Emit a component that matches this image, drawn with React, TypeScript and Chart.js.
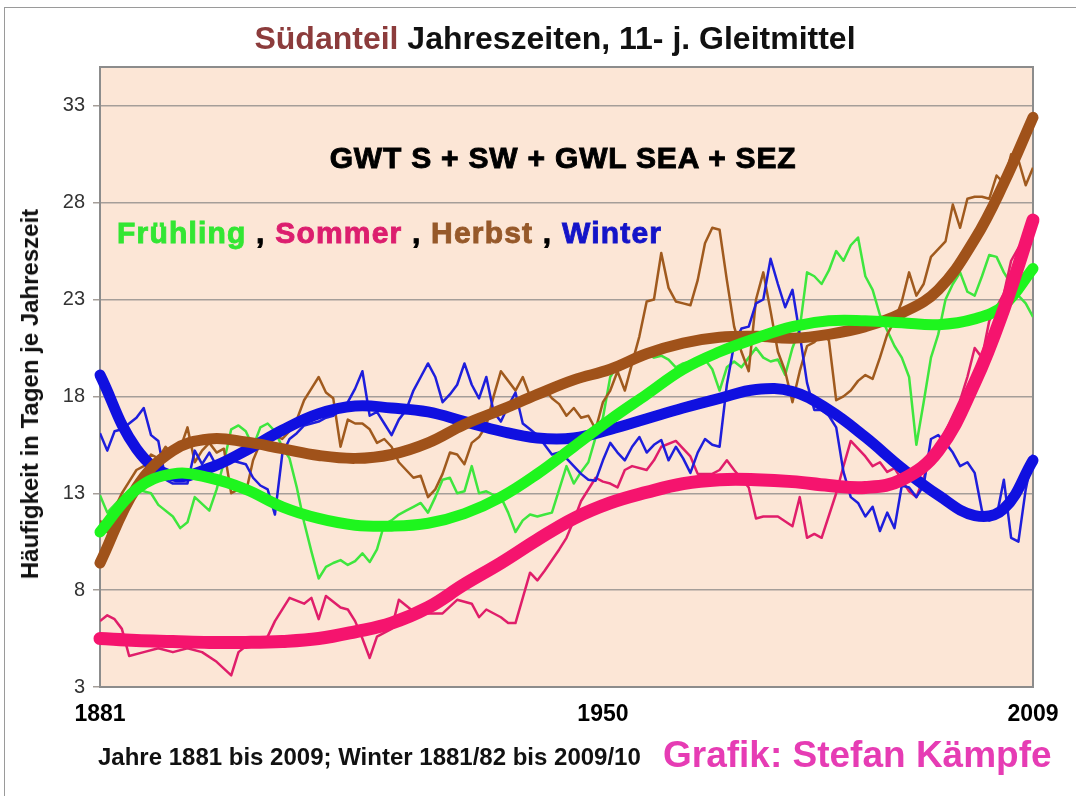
import React, { useEffect, useRef } from "react";
import { Chart, registerables } from "chart.js";

Chart.register(...registerables);

const FONT = '"Liberation Sans", Arial, Helvetica, sans-serif';

// ---- axis ticks ----
const yTicks = [3, 8, 13, 18, 23, 28, 33];
const xTicks = [1881, 1950, 2009];

// ---- 11-year moving averages ----
const springRaw: [number, number][] = [
  [1881, 12.9], [1882, 12.0], [1883, 12.4], [1884, 12.8], [1886, 13.2], [1888, 13.0], [1889, 12.4],
  [1891, 11.8], [1892, 11.2], [1893, 11.5], [1894, 12.8], [1896, 12.1], [1897, 13.2], [1898, 14.6],
  [1899, 16.3], [1900, 16.5], [1901, 16.2], [1902, 15.4], [1903, 16.4], [1904, 16.6], [1905, 16.2],
  [1906, 15.4], [1907, 14.8], [1908, 13.3], [1909, 11.5], [1910, 10.0], [1911, 8.6], [1912, 9.2],
  [1913, 9.4], [1914, 9.55], [1915, 9.3], [1916, 9.5], [1917, 9.9], [1918, 9.45], [1919, 10.1],
  [1920, 11.4], [1921, 11.6], [1922, 11.9], [1923, 12.1], [1924, 12.3], [1925, 12.5], [1926, 12.0],
  [1927, 12.8], [1928, 13.7], [1929, 13.8], [1930, 13.0], [1931, 13.1], [1932, 14.4], [1933, 13.0],
  [1934, 13.1], [1935, 12.9], [1936, 12.8], [1937, 12.0], [1938, 11.0], [1939, 11.6], [1940, 11.9],
  [1941, 11.8], [1942, 11.9], [1943, 12.0], [1944, 13.2], [1945, 14.4], [1946, 13.5], [1947, 14.1],
  [1948, 14.6], [1949, 15.9], [1950, 16.9], [1951, 19.0], [1952, 19.6], [1953, 19.7], [1954, 20.0],
  [1955, 20.1], [1956, 20.2], [1957, 20.0], [1958, 20.1], [1959, 19.9], [1960, 19.5], [1961, 19.7],
  [1962, 19.8], [1963, 19.9], [1964, 19.9], [1965, 19.4], [1966, 18.3], [1967, 19.5], [1968, 19.8],
  [1969, 19.5], [1970, 20.0], [1971, 20.5], [1972, 20.0], [1973, 19.8], [1974, 19.9], [1975, 19.1],
  [1976, 20.5], [1977, 21.5], [1978, 24.4], [1979, 24.2], [1980, 23.8], [1981, 24.5], [1982, 25.5],
  [1983, 25.0], [1984, 25.8], [1985, 26.2], [1986, 24.2], [1987, 23.5], [1988, 22.2], [1989, 21.4],
  [1990, 20.6], [1991, 20.0], [1992, 19.0], [1993, 15.5], [1994, 17.7], [1995, 20.0], [1996, 21.2],
  [1997, 23.0], [1998, 23.8], [1999, 24.4], [2000, 23.4], [2001, 23.2], [2002, 24.2], [2003, 25.3],
  [2004, 25.2], [2005, 24.4], [2006, 23.8], [2007, 23.2], [2008, 22.8], [2009, 22.1],
];

const summerRaw: [number, number][] = [
  [1881, 6.4], [1882, 6.7], [1883, 6.5], [1884, 6.0], [1885, 4.6], [1887, 4.8], [1889, 5.0],
  [1891, 4.8], [1893, 5.0], [1895, 4.8], [1897, 4.3], [1899, 3.6], [1900, 4.8], [1902, 5.4],
  [1904, 5.6], [1905, 6.4], [1907, 7.6], [1909, 7.3], [1910, 7.6], [1911, 6.5], [1912, 7.7],
  [1914, 7.1], [1915, 7.0], [1916, 6.4], [1917, 5.5], [1918, 4.5], [1919, 5.6], [1921, 6.0],
  [1922, 7.5], [1924, 6.9], [1926, 6.8], [1928, 6.8], [1930, 7.5], [1932, 7.3], [1933, 6.6],
  [1934, 7.0], [1936, 6.6], [1937, 6.3], [1938, 6.3], [1939, 7.6], [1940, 8.9], [1941, 8.5],
  [1942, 9.0], [1944, 10.1], [1945, 10.7], [1946, 11.6], [1947, 12.6], [1949, 13.8], [1950, 13.6],
  [1951, 13.5], [1952, 13.3], [1953, 14.2], [1954, 14.4], [1956, 14.2], [1957, 14.7], [1958, 15.4],
  [1960, 15.7], [1961, 15.3], [1962, 14.9], [1963, 14.0], [1965, 14.0], [1966, 14.2], [1967, 14.7],
  [1968, 14.2], [1970, 13.3], [1971, 11.7], [1972, 11.8], [1974, 11.8], [1976, 11.3], [1977, 12.8],
  [1978, 10.7], [1979, 10.9], [1980, 10.7], [1982, 13.0], [1983, 14.4], [1984, 15.7], [1986, 14.9],
  [1987, 14.4], [1988, 14.6], [1989, 14.1], [1990, 14.3], [1992, 13.1], [1993, 12.8], [1995, 14.8],
  [1997, 16.2], [1999, 17.8], [2000, 19.0], [2001, 20.5], [2002, 20.0], [2003, 21.9], [2005, 23.3],
  [2006, 25.0], [2009, 27.0],
];

const autumnRaw: [number, number][] = [
  [1881, 11.6], [1882, 11.0], [1883, 12.2], [1884, 13.0], [1885, 13.6], [1886, 14.2], [1887, 14.4],
  [1888, 15.0], [1889, 14.8], [1890, 15.4], [1891, 15.0], [1892, 15.3], [1893, 16.4], [1894, 14.6],
  [1895, 15.2], [1896, 15.6], [1897, 15.1], [1898, 15.3], [1899, 13.0], [1900, 13.2], [1901, 13.0],
  [1902, 14.7], [1903, 15.6], [1904, 15.8], [1905, 16.0], [1906, 15.8], [1907, 16.2], [1908, 16.8],
  [1909, 17.8], [1910, 18.4], [1911, 19.0], [1912, 18.2], [1913, 17.9], [1914, 15.4], [1915, 16.8],
  [1916, 16.6], [1917, 16.6], [1918, 16.3], [1919, 15.6], [1920, 15.8], [1921, 15.4], [1922, 14.6],
  [1923, 14.2], [1924, 13.8], [1925, 13.9], [1926, 12.8], [1927, 13.2], [1928, 14.0], [1929, 15.1],
  [1930, 15.0], [1931, 14.5], [1932, 15.6], [1933, 15.9], [1934, 16.5], [1935, 18.0], [1936, 19.3],
  [1937, 18.8], [1938, 18.3], [1939, 19.0], [1940, 18.0], [1941, 18.3], [1942, 18.4], [1943, 17.9],
  [1944, 17.6], [1945, 17.0], [1946, 17.4], [1947, 16.9], [1948, 17.0], [1949, 16.3], [1950, 17.7],
  [1951, 18.3], [1952, 19.3], [1953, 18.3], [1954, 19.7], [1955, 21.1], [1956, 22.9], [1957, 23.0],
  [1958, 25.4], [1959, 23.6], [1960, 22.9], [1961, 22.8], [1962, 22.7], [1963, 24.0], [1964, 25.9],
  [1965, 26.7], [1966, 26.6], [1967, 24.0], [1968, 21.6], [1969, 20.3], [1970, 19.3], [1971, 23.0],
  [1972, 24.4], [1973, 22.4], [1974, 20.3], [1975, 19.3], [1976, 17.7], [1977, 19.3], [1978, 20.6],
  [1979, 20.8], [1980, 21.2], [1981, 20.9], [1982, 17.8], [1983, 18.0], [1984, 18.3], [1985, 18.8],
  [1986, 19.1], [1987, 18.9], [1988, 20.0], [1989, 21.2], [1990, 21.9], [1991, 22.9], [1992, 24.4],
  [1993, 23.2], [1994, 23.8], [1995, 25.2], [1996, 25.6], [1997, 26.0], [1998, 27.9], [1999, 26.7],
  [2000, 28.2], [2001, 28.3], [2002, 28.3], [2003, 28.2], [2004, 29.4], [2005, 29.0], [2006, 30.5],
  [2007, 30.2], [2008, 28.9], [2009, 29.8],
];

const winterRaw: [number, number][] = [
  [1881, 16.1], [1882, 15.2], [1883, 16.2], [1884, 16.3], [1885, 16.6], [1886, 16.9], [1887, 17.4],
  [1888, 16.0], [1889, 15.7], [1890, 13.7], [1891, 13.5], [1892, 13.5], [1893, 13.5], [1894, 15.2],
  [1895, 14.5], [1896, 15.1], [1897, 14.4], [1898, 14.6], [1899, 14.7], [1900, 14.6], [1901, 14.5],
  [1902, 13.8], [1903, 13.4], [1904, 13.2], [1905, 11.9], [1906, 15.0], [1907, 15.8], [1908, 16.1],
  [1909, 16.5], [1910, 16.6], [1911, 16.7], [1912, 16.9], [1913, 17.0], [1914, 17.3], [1915, 17.7],
  [1916, 18.4], [1917, 19.3], [1918, 17.0], [1919, 17.2], [1920, 16.6], [1921, 16.0], [1922, 16.8],
  [1923, 17.3], [1924, 18.3], [1925, 19.0], [1926, 19.7], [1927, 19.0], [1928, 17.7], [1929, 18.1],
  [1930, 18.6], [1931, 19.7], [1932, 18.6], [1933, 17.9], [1934, 19.0], [1935, 17.2], [1936, 16.7],
  [1937, 17.5], [1938, 18.2], [1939, 16.6], [1940, 16.3], [1941, 16.0], [1942, 15.5], [1943, 15.0],
  [1944, 15.1], [1945, 14.8], [1946, 14.4], [1947, 14.0], [1948, 13.7], [1949, 13.65], [1950, 14.7],
  [1951, 15.6], [1952, 15.1], [1953, 14.7], [1954, 15.4], [1955, 15.9], [1956, 15.1], [1957, 15.5],
  [1958, 15.75], [1959, 14.7], [1960, 15.4], [1961, 14.8], [1962, 14.05], [1963, 15.1], [1964, 15.8],
  [1965, 15.5], [1966, 15.4], [1967, 18.6], [1968, 20.7], [1969, 21.5], [1970, 21.6], [1971, 22.8],
  [1972, 23.0], [1973, 25.1], [1974, 23.8], [1975, 22.6], [1976, 23.5], [1977, 21.2], [1978, 18.7],
  [1979, 17.3], [1980, 17.3], [1981, 17.0], [1982, 16.4], [1983, 14.1], [1984, 12.8], [1985, 12.5],
  [1986, 11.8], [1987, 12.3], [1988, 11.05], [1989, 12.0], [1990, 11.2], [1991, 13.4], [1992, 13.3],
  [1993, 12.8], [1994, 13.4], [1995, 15.8], [1996, 16.0], [1997, 15.6], [1998, 15.1], [1999, 14.4],
  [2000, 14.6], [2001, 14.05], [2002, 12.1], [2003, 11.6], [2004, 11.8], [2005, 13.7], [2006, 10.7],
  [2007, 10.5], [2008, 13.2], [2009, 15.0],
];

// ---- polynomial trend curves ----
const trendYears = [1881, 1886, 1891, 1896, 1901, 1906, 1911, 1916, 1921, 1926, 1931, 1936, 1941,
  1946, 1951, 1956, 1961, 1966, 1971, 1976, 1981, 1986, 1991, 1996, 2001, 2005, 2009];
const springTrend = [11.0, 13.2, 14.0, 13.8, 13.2, 12.3, 11.7, 11.35, 11.3, 11.45, 11.95, 12.8, 14.0,
  15.4, 16.8, 18.1, 19.4, 20.3, 21.0, 21.6, 21.9, 21.9, 21.8, 21.7, 22.0, 22.7, 24.6];
const summerTrend = [5.5, 5.4, 5.35, 5.3, 5.3, 5.35, 5.5, 5.85, 6.3, 7.1, 8.3, 9.4, 10.6,
  11.7, 12.5, 13.05, 13.5, 13.7, 13.7, 13.6, 13.4, 13.3, 13.7, 15.2, 18.7, 22.5, 27.1];
const autumnTrend = [9.4, 13.3, 15.2, 15.8, 15.65, 15.3, 14.95, 14.8, 15.0, 15.6, 16.55, 17.3, 18.1,
  18.85, 19.4, 20.2, 20.75, 21.05, 21.1, 21.0, 21.2, 21.6, 22.3, 23.5, 26.1, 29.0, 32.4];
const winterTrend = [19.1, 15.3, 13.9, 14.3, 15.2, 16.25, 17.1, 17.5, 17.4, 17.2, 16.7, 16.2, 15.85,
  15.85, 16.3, 16.85, 17.4, 17.9, 18.35, 18.25, 17.3, 15.9, 14.3, 12.9, 11.85, 12.2, 14.7];

const COLORS = {
  springRaw: "#3ee63e",
  springTrend: "#1ef51e",
  summerRaw: "#e01e6a",
  summerTrend: "#f5146e",
  autumnRaw: "#a05a1e",
  autumnTrend: "#a0521a",
  winterRaw: "#1e1edc",
  winterTrend: "#1010e0",
};

const toPoints = (pairs: [number, number][]) => pairs.map(([x, y]) => ({ x, y }));
const trendPoints = (vals: number[]) => trendYears.map((x, i) => ({ x, y: vals[i] }));

const plotFrame = {
  id: "plotFrame",
  beforeDraw(chart: any) {
    const { ctx, chartArea: a } = chart;
    ctx.save();
    ctx.fillStyle = "#fce6d6";
    ctx.fillRect(a.left, a.top, a.right - a.left, a.bottom - a.top);
    ctx.restore();
  },
  beforeDatasetsDraw(chart: any) {
    const { ctx, chartArea: a } = chart;
    ctx.save();
    ctx.strokeStyle = "#8c8c8c";
    ctx.lineWidth = 2;
    ctx.strokeRect(a.left, a.top, a.right - a.left, a.bottom - a.top);
    ctx.restore();
  },
};

function rawSet(label: string, pairs: [number, number][], color: string, order: number) {
  return {
    label,
    data: toPoints(pairs),
    borderColor: color,
    backgroundColor: color,
    borderWidth: 2.5,
    pointRadius: 0,
    tension: 0,
    fill: false,
    order,
    borderJoinStyle: "round" as const,
  };
}

function trendSet(label: string, vals: number[], color: string, width: number, order: number) {
  return {
    label,
    data: trendPoints(vals),
    borderColor: color,
    backgroundColor: color,
    borderWidth: width,
    pointRadius: 0,
    tension: 0.4,
    fill: false,
    order,
    clip: false as const,
    borderCapStyle: "round" as const,
    borderJoinStyle: "round" as const,
  };
}

export default function App() {
  const canvasRef = useRef<HTMLCanvasElement | null>(null);

  useEffect(() => {
    if (!canvasRef.current) return;
    Chart.defaults.font.family = FONT;
    const chart = new Chart(canvasRef.current, {
      type: "line",
      data: {
        datasets: [
          trendSet("Sommer Trend", summerTrend, COLORS.summerTrend, 13, 1),
          trendSet("Frühling Trend", springTrend, COLORS.springTrend, 11, 2),
          trendSet("Herbst Trend", autumnTrend, COLORS.autumnTrend, 11, 3),
          trendSet("Winter Trend", winterTrend, COLORS.winterTrend, 11, 4),
          rawSet("Winter", winterRaw, COLORS.winterRaw, 5),
          rawSet("Herbst", autumnRaw, COLORS.autumnRaw, 6),
          rawSet("Sommer", summerRaw, COLORS.summerRaw, 7),
          rawSet("Frühling", springRaw, COLORS.springRaw, 8),
        ] as any,
      },
      options: {
        responsive: false,
        animation: false,
        devicePixelRatio: 1,
        layout: { padding: { left: 0, right: 43, top: 67, bottom: 0 } },
        plugins: {
          legend: { display: false },
          tooltip: { enabled: false },
          title: { display: false },
        },
        scales: {
          x: {
            type: "linear",
            min: 1881,
            max: 2009,
            afterBuildTicks: (s: any) => {
              s.ticks = xTicks.map((v) => ({ value: v }));
            },
            afterFit: (s: any) => {
              s.height = 109;
            },
            grid: { display: false, drawTicks: false, tickLength: 0 },
            border: { display: false },
            ticks: {
              autoSkip: false,
              maxRotation: 0,
              minRotation: 0,
              padding: 14,
              color: "#000",
              font: { family: FONT, size: 23, weight: "bold" },
              callback: (v: any) => String(v),
            },
          },
          y: {
            type: "linear",
            min: 3,
            max: 35,
            afterBuildTicks: (s: any) => {
              s.ticks = yTicks.map((v) => ({ value: v }));
            },
            afterFit: (s: any) => {
              s.width = 100;
            },
            grid: { color: "#a59e99", lineWidth: 1.5, drawTicks: true, tickLength: 7 },
            border: { display: false },
            ticks: {
              padding: 8,
              color: "#333",
              font: { family: FONT, size: 20 },
              callback: (v: any) => String(v),
            },
          },
        },
      },
      plugins: [plotFrame],
    });
    return () => chart.destroy();
  }, []);

  const heavy: React.CSSProperties = {
    position: "absolute",
    whiteSpace: "nowrap",
    fontFamily: FONT,
    fontWeight: "bold",
    lineHeight: 1,
    margin: 0,
  };

  const black: React.CSSProperties = {
    WebkitTextStroke: "0.9px currentColor",
  };

  return (
    <div
      style={{
        position: "absolute",
        left: 0,
        top: 0,
        width: 1076,
        height: 796,
        background: "#fff",
        overflow: "hidden",
      }}
    >
      <div
        style={{
          position: "absolute",
          left: 4,
          top: 7,
          width: 1080,
          height: 800,
          borderTop: "1px solid #9a9a9a",
          borderLeft: "1px solid #9a9a9a",
        }}
      />
      <canvas
        ref={canvasRef}
        width={1076}
        height={796}
        style={{ position: "absolute", left: 0, top: 0, width: 1076, height: 796 }}
      />
      <div style={{ ...heavy, left: 555, top: 22, fontSize: 32, transform: "translateX(-50%)" }}>
        <span style={{ color: "#8c3c3c" }}>Südanteil</span>
        <span style={{ color: "#111" }}> Jahreszeiten, 11- j. Gleitmittel</span>
      </div>
      <div
        style={{
          ...heavy,
          ...black,
          left: 563,
          top: 143,
          fontSize: 30,
          letterSpacing: 0.8,
          color: "#000",
          transform: "translateX(-50%)",
        }}
      >
        GWT S + SW + GWL SEA + SEZ
      </div>
      <div style={{ ...heavy, ...black, left: 117, top: 218, fontSize: 30, letterSpacing: 1.2 }}>
        <span style={{ color: "#33e633" }}>Frühling</span>
        <span style={{ color: "#000" }}> , </span>
        <span style={{ color: "#dc1e6e" }}>Sommer</span>
        <span style={{ color: "#000" }}> , </span>
        <span style={{ color: "#96592a" }}>Herbst</span>
        <span style={{ color: "#000" }}> , </span>
        <span style={{ color: "#1414c8" }}>Winter</span>
      </div>
      <div
        style={{
          ...heavy,
          left: 30,
          top: 394,
          fontSize: 24,
          color: "#111",
          transform: "translate(-50%, -50%) rotate(-90deg)",
        }}
      >
        Häufigkeit in Tagen je Jahreszeit
      </div>
      <div style={{ ...heavy, left: 98, top: 745, fontSize: 24, color: "#111" }}>
        Jahre 1881 bis 2009; Winter 1881/82 bis 2009/10
      </div>
      <div style={{ ...heavy, left: 663, top: 736, fontSize: 37, color: "#e63cb4" }}>
        Grafik: Stefan Kämpfe
      </div>
    </div>
  );
}
